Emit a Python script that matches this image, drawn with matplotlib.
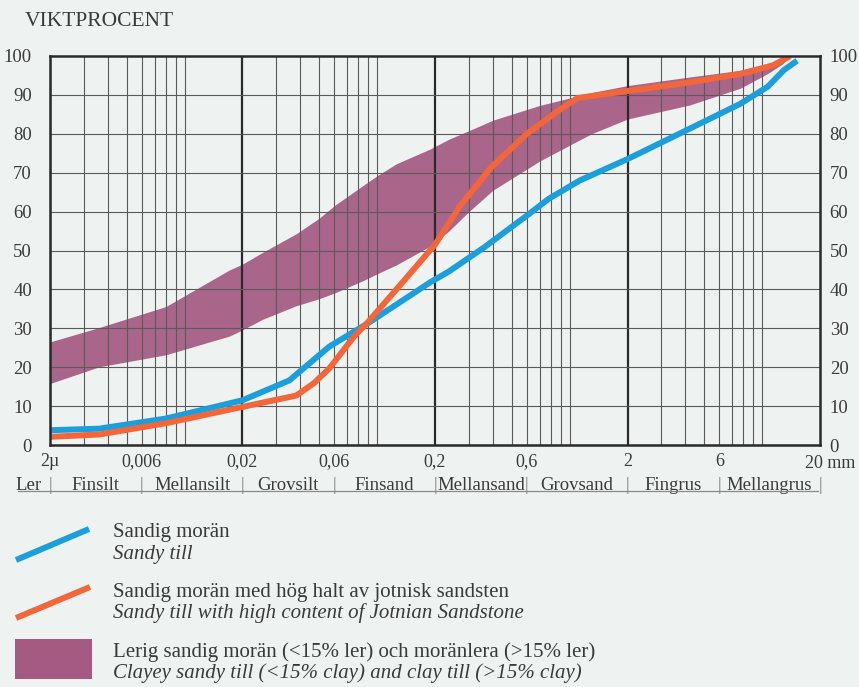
import numpy as np
import matplotlib
matplotlib.use("Agg")
import matplotlib.pyplot as plt
from matplotlib.lines import Line2D
from matplotlib.patches import Rectangle
import matplotlib.transforms as mtransforms

plt.rcParams['font.family'] = ['Liberation Serif', 'DejaVu Serif']

# Grain size (mm) and cumulative weight percent
blue_d = [0.002, 0.0036, 0.008, 0.02, 0.035, 0.0565, 0.089, 0.19, 0.236, 0.36, 0.62, 0.78, 1.13,
          2.0, 4.2, 7.7, 10.7, 13.0, 15.2]
blue_p = [3.8, 4.2, 6.8, 11.5, 16.6, 25.3, 31.2, 41.9, 44.6, 50.8, 59.5, 63.3, 68.0,
          73.5, 81.3, 87.7, 92.1, 96.4, 98.8]

orange_d = [0.002, 0.0036, 0.008, 0.02, 0.038, 0.047, 0.0565, 0.076, 0.089, 0.126, 0.2, 0.27, 0.39,
            0.6, 0.86, 1.1, 2.0, 4.2, 7.7, 11.4, 14.0]
orange_p = [2.1, 2.7, 5.6, 9.8, 12.7, 15.9, 19.7, 27.9, 31.4, 40.0, 51.5, 61.5, 71.3,
            80.0, 85.7, 89.2, 91.0, 93.2, 95.4, 97.6, 100.0]

band_d = [0.002, 0.0036, 0.008, 0.0171, 0.02, 0.0254, 0.038, 0.05, 0.061, 0.085, 0.1, 0.126, 0.187,
          0.236, 0.3, 0.4, 0.7, 1.04, 1.3, 2.0, 4.2, 7.7, 10.7, 12.8, 14.0]
band_hi = [26.5, 30.2, 35.6, 45.0, 46.5, 49.5, 54.3, 58.3, 61.8, 66.8, 69.2, 72.3, 76.0,
           78.6, 80.8, 83.5, 87.3, 89.4, 90.6, 92.4, 94.6, 96.3, 98.0, 98.9, 100.0]
band_lo = [15.8, 20.1, 23.2, 28.0, 29.6, 32.3, 35.8, 37.6, 39.2, 42.3, 44.0, 46.3, 51.0,
           55.0, 60.0, 65.5, 73.0, 77.5, 80.0, 83.8, 87.4, 91.7, 95.5, 98.0, 100.0]

x_ticks = [0.002, 0.006, 0.02, 0.06, 0.2, 0.6, 2, 6, 20]
x_labels = ['2µ', '0,006', '0,02', '0,06', '0,2', '0,6', '2', '6']
fractions = ['Ler', 'Finsilt', 'Mellansilt', 'Grovsilt', 'Finsand', 'Mellansand', 'Grovsand', 'Fingrus', 'Mellangrus']

bg = '#eef2f1'
blue = '#1b9fdc'
orange = '#f2663a'
purple = '#a55a82'
ink = '#3a3a3a'

fig = plt.figure(figsize=(8.59, 6.87), dpi=100)
fig.patch.set_facecolor(bg)
W, H = 859, 687
ax = fig.add_axes([50 / W, 1 - 445 / H, 770 / W, 389 / H])
ax.set_facecolor(bg)
ax.set_xscale('log')
ax.set_xlim(0.002, 20)
ax.set_ylim(0, 100)

# log grid: each decade starts at 2*10^n with lines at 3..10
for base in [0.002, 0.02, 0.2, 2]:
    for k in range(3, 11):
        ax.axvline(base * k / 2, color='#5a5a5a', lw=0.8, zorder=3)
    ax.axvline(base, color='#2a2a2a', lw=1.6, zorder=3)
for v in range(10, 100, 10):
    ax.axhline(v, color='#5a5a5a', lw=0.8, zorder=3)
for s in ax.spines.values():
    s.set_linewidth(1.8)
    s.set_color('#2a2a2a')
    s.set_zorder(5)

ax.fill_between(band_d, band_lo, band_hi, color=purple, lw=0, alpha=0.93, zorder=2)
ax.plot(blue_d, blue_p, color=blue, lw=4.3, solid_capstyle='butt', zorder=4)
ax.plot(orange_d, orange_p, color=orange, lw=4.3, solid_capstyle='butt', zorder=4)

ax.set_xticks([])
ax.minorticks_off()
ax.set_yticks(range(0, 101, 10))
ax.tick_params(axis='y', length=0, pad=13, labelsize=13.5, labelcolor=ink)
ax2 = ax.twinx()
ax2.set_ylim(0, 100)
ax2.set_yticks(range(0, 101, 10))
ax2.tick_params(axis='y', length=0, pad=7, labelsize=13.5, labelcolor=ink)
for s in ax2.spines.values():
    s.set_visible(False)

trans = mtransforms.blended_transform_factory(ax.transData, ax.transAxes)
for d, lab in zip(x_ticks, x_labels):
    ax.text(d, -0.042, lab, transform=trans, ha='center', va='center', fontsize=13, color=ink)
fig.text(855 / W, 1 - 463 / H, '20 mm', ha='right', va='center', fontsize=13, color=ink)

# grain-size fraction row with separators
centers = [0.00155] + [np.sqrt(a * b) for a, b in zip(x_ticks[:-1], x_ticks[1:])]
for c, name in zip(centers, fractions):
    ax.text(c, -0.105, name, transform=trans, ha='center', va='center', fontsize=13.5, color=ink)
for d in x_ticks:
    ax.text(d, -0.105, '|', transform=trans, ha='center', va='center', fontsize=13, color='#777777')
fig.add_artist(Line2D([18 / W, 818 / W], [1 - 491 / H, 1 - 491 / H], color='#8a8a8a', lw=0.9))

fig.text(25 / W, 1 - 21 / H, 'VIKTPROCENT', ha='left', va='center', fontsize=15.5, color=ink)

# legend
fig.add_artist(Line2D([16 / W, 89 / W], [1 - 560 / H, 1 - 529 / H], color=blue, lw=4.3, solid_capstyle='butt'))
fig.add_artist(Line2D([16 / W, 90 / W], [1 - 618 / H, 1 - 587 / H], color=orange, lw=4.3, solid_capstyle='butt'))
fig.add_artist(Rectangle((15 / W, 1 - 679 / H), 77 / W, 40 / H, color=purple, lw=0))
legend = [
    ('Sandig morän', 'Sandy till', 533),
    ('Sandig morän med hög halt av jotnisk sandsten', 'Sandy till with high content of Jotnian Sandstone', 592),
    ('Lerig sandig morän (<15% ler) och moränlera (>15% ler)', 'Clayey sandy till (<15% clay) and clay till (>15% clay)', 652),
]
for sv, en, y in legend:
    fig.text(113 / W, 1 - y / H, sv, ha='left', va='center', fontsize=15, color=ink)
    fig.text(113 / W, 1 - (y + 21) / H, en, ha='left', va='center', fontsize=15, color=ink, style='italic')

fig.savefig('out.png', dpi=100, facecolor=bg)
